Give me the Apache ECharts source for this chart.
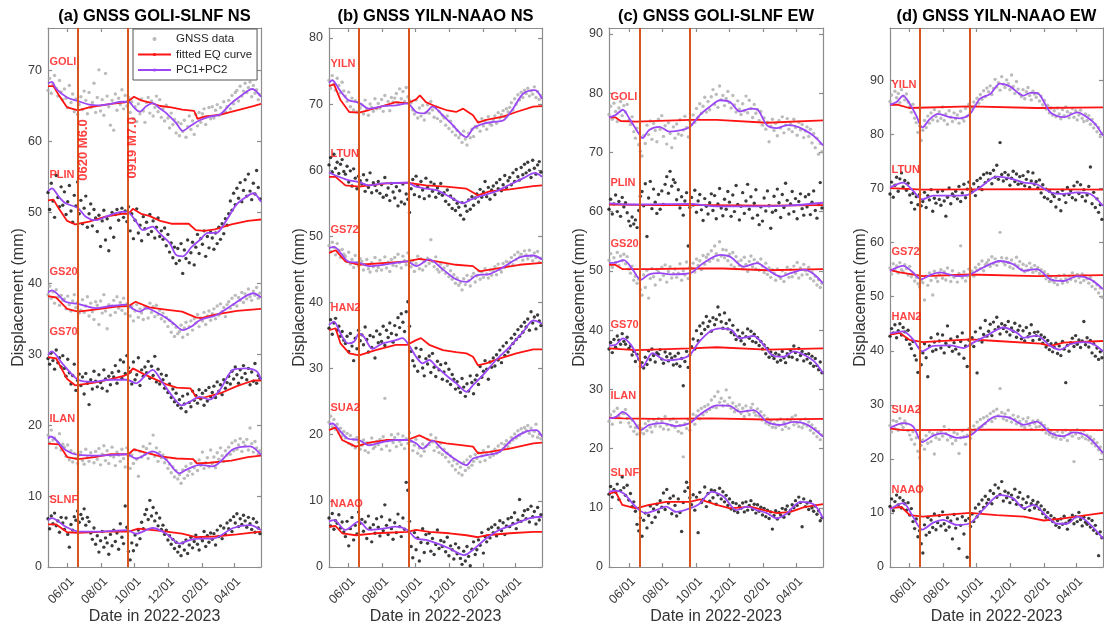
<!DOCTYPE html>
<html><head><meta charset="utf-8">
<script src="https://cdn.jsdelivr.net/npm/echarts@6/dist/echarts.min.js"></script>
<style>html,body{margin:0;padding:0;background:#fff}#c{width:1104px;height:628px}</style>
</head><body><div id="c"></div>
<script>
// x values are days counted from 2022-01-01 (= day 0)
const X_MIN = 115, X_MAX = 504;
const X_TICK_DAYS = [151, 212, 273, 334, 396, 455];
const X_TICK_LABELS = ['06/01', '08/01', '10/01', '12/01', '02/01', '04/01'];
const EQ_DAYS = [170, 261];
const EQ_TEXTS = ['0620 M6.0', '0919 M7.0'];
const EQ_TEXT_X = [180, 270];
const EQ_TEXT_Y = [58.8, 59.1];
const DOT_START = 115, DOT_STEP = 3;

const PANEL_TITLES = ['(a) GNSS GOLI-SLNF NS', '(b) GNSS YILN-NAAO NS', '(c) GNSS GOLI-SLNF EW', '(d) GNSS YILN-NAAO EW'];
const Y_MAX = [76, 81.5, 91, 99.7];
const Y_TICKS = [
  [0, 10, 20, 30, 40, 50, 60, 70],
  [0, 10, 20, 30, 40, 50, 60, 70, 80],
  [0, 10, 20, 30, 40, 50, 60, 70, 80, 90],
  [0, 10, 20, 30, 40, 50, 60, 70, 80, 90]
];
const NAMES_AC = ['GOLI', 'PLIN', 'GS20', 'GS70', 'ILAN', 'SLNF'];
const NAMES_BD = ['YILN', 'LTUN', 'GS72', 'HAN2', 'SUA2', 'NAAO'];
const LABEL_Y_A = [71.2, 55.3, 41.6, 33.1, 20.9, 9.4];
const LABEL_Y_B = [76.1, 62.4, 50.9, 39.2, 24.1, 9.6];
const LABEL_Y_C = [79.4, 64.8, 54.5, 40.9, 28.8, 15.8];
const LABEL_Y_D = [89.1, 73.5, 58.2, 46.3, 29.1, 14.2];

// ---------- panel (a) ----------
const A_GOLI_DOTS = [67.2,68.9,66.8,68.1,69.3,67.5,66.4,68.6,67.0,65.9, 67.4,66.1,64.8,67.9,65.5,66.7,64.2,66.0,63.8,65.2, 66.3,64.5,67.1,65.8,63.9,66.9,64.8,65.5,68.2,64.1, 66.2,70.1,64.3,65.9,63.7,69.6,66.4,64.9,62.3,65.8, 61.6,66.7,64.4,66.1,65.2,67.3,64.6,66.5,65.0,66.2, 64.1,65.6,63.2,64.9,62.8,65.3,63.9,66.0,64.3,62.7, 65.5,66.2,64.0,65.7,63.6,64.8,66.4,64.2,65.9,63.4, 64.6,62.9,65.1,63.3,61.9,64.0,62.4,63.1,61.2,62.7, 60.8,62.5,61.4,63.0,60.6,62.1,63.6,61.7,62.9,61.0, 63.8,62.2,64.1,62.7,63.9,64.6,62.4,63.5,64.8,63.2, 64.9,63.3,64.4,65.2,63.7,64.8,63.9,65.6,64.2,64.9, 65.8,64.6,66.5,65.3,66.9,67.2,65.7,67.8,66.4,67.1, 68.2,66.9,67.6,68.4,66.3,67.9,66.8,67.3,65.9,66.6];
const A_GOLI_EQ = [[115,67.8],[125,67.8],[135,66.5],[150,64.8],[170,64.4],[190,64.8],[230,65.3],[255,65.5],[262,65.7],[272,66.3],[285,65.8],[300,65.5],[320,65.0],[340,64.8],[360,64.5],[382,64.3],[388,63.2],[400,63.5],[430,63.8],[460,64.4],[490,65.0],[504,65.3]];
const A_GOLI_PC = [[115,68.2],[122,68.4],[130,67.4],[150,66.2],[170,65.7],[190,65.2],[210,65.1],[230,65.3],[250,65.6],[262,65.6],[272,64.8],[282,64.2],[295,65.0],[306,65.4],[320,64.6],[331,64.0],[349,62.6],[361,61.5],[377,62.3],[392,63.0],[410,63.5],[429,63.8],[447,65.2],[465,66.3],[488,67.4],[504,66.3]];

const A_PLIN_DOTS = [52.8,50.4,54.1,51.6,49.3,55.2,52.1,50.8,53.6,51.0, 52.9,49.7,51.5,53.8,50.2,48.6,52.4,50.9,54.3,49.8, 51.7,48.4,50.6,52.3,47.9,49.8,51.2,48.1,50.4,49.2, 47.3,49.6,45.2,48.8,50.3,46.1,49.1,44.6,47.8,50.0, 46.5,49.7,50.4,48.9,49.9,50.6,49.3,50.2,48.7,50.8, 47.4,49.8,46.3,48.9,50.5,47.1,48.2,46.0,49.4,47.7, 48.6,46.9,49.7,47.3,48.8,46.4,47.9,49.2,46.6,47.4, 46.2,47.8,45.3,46.9,44.4,45.7,43.6,45.1,42.8,44.9, 43.2,45.6,41.4,44.7,43.5,46.1,42.9,44.3,45.8,42.6, 45.1,46.9,44.2,46.3,45.5,47.4,43.8,46.6,45.0,47.2, 46.4,44.8,47.1,45.6,47.9,46.2,48.4,47.0,49.1,48.2, 49.8,51.6,50.3,52.7,51.1,53.4,52.0,54.2,51.5,53.1, 54.6,52.3,55.4,53.0,51.8,54.1,52.6,55.9,53.5,51.9];
const A_PLIN_EQ = [[115,51.7],[125,51.8],[135,50.5],[150,48.8],[165,48.3],[190,48.7],[220,49.4],[250,49.8],[262,49.8],[270,50.5],[285,49.8],[300,49.5],[320,48.8],[340,48.4],[372,48.4],[385,47.5],[400,47.4],[420,47.6],[450,48.3],[480,48.8],[504,49.0]];
const A_PLIN_PC = [[115,53.0],[122,53.4],[135,52.2],[147,51.3],[170,50.6],[184,49.4],[202,48.9],[221,49.4],[239,49.9],[259,50.1],[276,48.7],[288,47.5],[306,48.0],[318,47.1],[337,45.7],[349,44.0],[361,43.8],[377,45.1],[392,46.1],[407,47.1],[422,47.1],[441,48.9],[459,51.1],[477,52.2],[490,52.7],[504,51.5]];

const A_GS20_DOTS = [38.4,39.6,37.9,38.8,37.2,39.1,38.0,36.9,38.3,37.6, 37.8,36.4,38.2,37.0,36.1,37.5,38.4,36.6,37.3,35.8, 36.2,37.7,35.9,36.8,38.1,35.4,37.2,36.0,34.9,37.4, 36.9,34.2,37.5,35.8,38.4,36.1,33.6,37.0,35.5,36.8, 37.6,35.9,38.1,36.5,37.3,36.2,37.9,35.7,37.1,36.6, 35.4,36.8,34.7,36.1,37.0,35.2,36.4,35.8,34.9,36.7, 36.5,35.1,37.2,35.9,36.7,35.3,36.9,35.6,36.2,35.0, 35.8,34.6,35.2,33.9,34.8,33.1,34.3,32.5,33.8,32.9, 33.2,34.1,32.4,33.7,34.5,32.8,33.9,34.7,33.4,35.0, 34.4,35.6,33.9,35.1,34.7,35.9,34.2,35.4,36.1,34.8, 35.7,36.4,35.0,36.8,35.5,37.1,36.0,36.6,35.3,37.0, 37.4,36.5,37.9,37.0,38.3,36.8,38.0,37.6,38.7,37.3, 38.5,37.8,39.2,38.1,37.6,38.9,38.3,39.4,37.9,38.6];
const A_GS20_EQ = [[115,38.2],[130,38.0],[150,36.4],[170,36.0],[200,36.3],[240,36.7],[262,36.8],[275,37.4],[300,36.6],[330,36.3],[360,36.0],[385,35.2],[395,35.1],[420,35.6],[460,36.1],[504,36.4]];
const A_GS20_PC = [[115,38.7],[122,39.0],[147,37.4],[170,37.1],[202,36.5],[230,36.8],[259,37.0],[270,36.4],[282,36.0],[295,36.5],[306,36.2],[331,35.1],[345,34.3],[361,33.4],[377,33.9],[392,34.8],[422,35.5],[453,37.0],[490,38.6],[504,38.0]];

const A_GS70_DOTS = [29.4,28.6,30.2,29.1,27.9,30.6,28.8,29.5,28.2,29.8, 28.0,26.9,29.3,27.4,25.8,27.0,28.6,24.9,26.3,27.2, 25.6,26.8,24.4,27.3,25.9,22.9,26.4,25.1,27.6,26.2, 25.4,27.1,26.0,25.2,27.8,26.5,24.8,26.9,25.7,27.4, 26.8,28.4,25.9,27.6,29.2,26.6,28.9,27.3,29.8,28.1, 27.5,25.8,28.9,26.4,27.1,29.5,25.6,27.8,26.9,28.2, 27.4,29.0,26.6,28.3,27.0,29.7,26.1,27.9,25.8,27.2, 26.4,25.2,27.0,24.6,25.8,23.9,25.1,23.3,24.5,22.8, 23.6,22.4,24.1,23.0,21.9,24.4,23.2,22.6,24.8,23.5, 24.2,23.1,25.0,23.7,24.5,22.8,24.9,23.4,25.3,24.0, 24.6,25.5,23.9,26.1,24.8,25.7,24.3,26.4,25.2,26.0, 26.9,25.8,27.6,26.5,28.2,27.1,25.9,27.8,26.7,28.4, 27.3,26.4,28.0,25.7,27.5,26.2,28.7,25.9,27.0,26.6];
const A_GS70_EQ = [[115,29.6],[130,29.4],[150,26.5],[165,25.6],[200,26.0],[230,26.5],[255,27.0],[262,27.2],[270,28.0],[290,27.2],[310,26.5],[330,25.8],[350,25.3],[375,25.2],[387,23.8],[400,23.9],[430,24.5],[460,25.5],[490,26.3],[504,26.3]];
const A_GS70_PC = [[115,29.9],[122,30.4],[141,28.7],[170,26.4],[196,26.1],[227,26.4],[259,26.4],[276,25.9],[294,27.1],[306,27.8],[325,25.9],[343,24.0],[359,22.8],[374,23.3],[392,24.0],[410,23.6],[429,25.0],[453,27.8],[477,28.0],[496,27.6],[504,26.4]];

const A_ILAN_DOTS = [18.6,17.5,19.3,17.9,18.2,16.8,17.6,18.8,16.5,17.3, 16.9,15.6,17.2,15.1,16.4,14.8,16.0,15.3,14.6,15.8, 16.2,15.0,14.5,16.6,15.4,14.9,16.1,15.6,14.7,16.3, 15.2,16.7,14.4,15.9,17.1,15.0,16.4,14.6,15.7,16.9, 15.5,14.3,16.2,15.8,14.9,16.6,15.3,14.1,16.8,15.6, 13.9,15.8,14.6,16.5,15.2,12.8,16.3,15.5,17.0,15.9, 16.7,15.3,17.4,16.0,18.6,15.6,16.8,14.9,16.2,15.4, 15.8,14.7,15.2,13.9,14.5,13.3,14.1,12.7,13.6,12.4, 13.0,11.8,13.7,12.5,14.2,12.9,13.5,14.6,13.1,14.0, 14.8,13.6,15.1,14.3,16.2,13.9,14.7,15.4,14.1,16.5, 14.6,15.5,14.0,16.1,15.2,16.8,15.7,14.9,16.4,15.8, 16.9,15.9,17.5,16.4,17.8,16.6,17.2,18.1,16.3,17.6, 17.1,18.0,16.5,19.6,17.4,16.2,17.7,16.8,15.9,16.4];
const A_ILAN_EQ = [[115,17.4],[135,17.3],[150,15.5],[170,15.2],[200,15.5],[230,15.9],[262,15.9],[272,16.6],[290,16.2],[320,15.6],[350,15.3],[380,15.2],[387,14.6],[410,14.7],[450,15.0],[480,15.5],[504,15.7]];
const A_ILAN_PC = [[115,18.1],[120,18.4],[147,16.5],[170,15.8],[208,15.7],[259,15.9],[276,15.3],[306,16.3],[331,15.1],[355,13.2],[367,13.7],[392,14.4],[416,14.2],[453,16.6],[484,17.0],[504,15.8]];

const A_SLNF_DOTS = [6.8,5.4,7.2,6.1,7.6,5.8,6.5,4.9,7.0,6.2, 5.3,6.9,4.6,2.8,6.0,5.2,7.1,6.6,7.9,6.3, 7.4,6.8,8.2,5.9,7.0,6.4,4.8,3.9,5.5,3.2, 4.4,2.1,3.7,5.0,2.8,4.1,3.4,1.8,4.6,3.0, 5.2,3.6,4.8,2.5,6.1,4.2,3.3,8.6,5.6,2.2, 1.0,3.4,2.3,4.5,3.1,5.2,4.0,6.3,5.4,7.4, 8.1,6.7,9.4,7.2,8.4,6.5,7.6,5.8,6.9,5.3, 5.9,4.6,5.2,3.8,4.4,3.2,3.9,2.6,3.5,2.1, 2.9,1.6,3.4,2.4,3.8,1.9,3.1,4.2,2.7,3.6, 4.5,3.2,2.4,4.1,3.7,5.0,2.9,4.4,3.5,4.8, 3.9,4.7,3.1,5.2,4.3,5.8,4.0,5.5,4.6,6.2, 5.4,6.6,5.0,7.1,6.2,7.5,5.7,6.8,6.0,7.3, 6.5,5.6,7.0,6.1,5.3,6.8,4.9,6.3,5.5,4.7];
const A_SLNF_EQ = [[115,6.0],[130,6.0],[150,4.9],[170,4.8],[220,5.0],[262,5.0],[280,5.4],[320,5.1],[360,4.7],[385,4.2],[420,4.3],[460,4.6],[504,5.0]];
const A_SLNF_PC = [[115,6.6],[122,6.9],[147,5.7],[170,5.0],[208,5.0],[259,5.2],[276,4.7],[306,5.5],[331,4.7],[355,3.3],[374,3.8],[392,4.0],[416,4.0],[453,5.5],[484,5.9],[504,5.2]];

// ---------- panel (b) ----------
const B_YILN_DOTS = [73.6,72.4,74.3,73.0,72.1,73.9,72.8,71.7,73.3,72.0, 71.2,70.4,71.8,69.6,70.9,69.1,70.5,68.8,70.2,69.4, 69.9,68.5,70.6,69.2,68.3,70.0,69.5,68.9,70.8,69.3, 70.1,69.4,70.7,68.9,71.3,69.8,70.4,69.0,71.0,70.3, 70.9,71.6,70.2,72.3,70.8,71.9,70.4,72.5,71.1,70.6, 70.2,69.1,68.5,70.6,67.9,69.4,68.2,69.8,67.6,68.7, 69.9,68.6,70.4,69.1,68.0,69.6,67.8,68.9,67.4,68.3, 67.9,66.8,68.2,66.3,67.4,65.8,66.6,65.3,66.0,64.9, 65.4,64.2,65.9,64.7,63.8,65.6,64.9,66.2,65.1,66.6, 66.4,67.3,65.9,67.8,66.7,67.5,66.2,68.1,67.0,66.8, 67.6,68.2,67.1,68.7,67.9,68.4,69.0,68.1,69.3,68.8, 69.5,70.2,69.1,70.8,70.0,71.4,70.6,71.8,71.0,72.1, 71.6,72.4,71.2,72.0,71.5,72.6,71.0,71.9,70.7,71.3];
const B_YILN_EQ = [[115,72.7],[124,73.0],[136,70.6],[152,68.8],[170,68.7],[188,69.1],[213,69.7],[237,70.3],[258,70.1],[274,70.7],[281,71.3],[292,70.3],[311,69.6],[329,69.1],[347,68.8],[360,69.3],[378,68.3],[387,67.2],[402,67.6],[433,68.1],[457,68.8],[488,69.6],[504,69.7]];
const B_YILN_PC = [[115,73.2],[121,73.6],[133,72.3],[150,70.6],[170,70.2],[188,69.3],[213,69.7],[237,69.8],[258,70.1],[274,68.8],[289,68.6],[304,69.6],[323,68.3],[341,66.8],[356,65.5],[366,65.0],[378,66.3],[396,67.0],[415,67.3],[433,67.5],[451,69.3],[470,71.6],[491,72.1],[504,70.8]];

const B_LTUN_DOTS = [60.8,61.9,59.7,62.4,60.3,61.2,59.5,60.9,61.6,59.8, 59.4,60.6,58.2,59.9,57.6,60.2,58.8,57.2,59.1,58.4, 57.9,59.3,56.8,58.5,57.4,59.6,56.6,58.1,57.7,56.9, 58.3,56.5,57.8,55.9,58.9,56.2,57.3,55.4,58.0,56.7, 55.8,57.5,54.6,56.9,55.2,57.9,54.9,56.4,55.6,53.6, 57.2,58.6,56.3,59.1,57.6,56.0,58.3,57.0,55.7,58.8, 57.4,56.1,58.2,56.8,57.9,55.9,57.3,56.5,58.0,56.2, 56.6,55.3,57.0,54.8,56.1,54.2,55.6,53.9,55.0,54.4, 53.2,55.1,52.6,54.6,53.8,55.5,54.1,56.0,54.7,55.8, 56.4,55.2,57.1,55.9,56.7,58.3,56.0,57.4,55.6,57.0, 57.6,56.3,58.1,57.2,58.6,56.9,57.8,59.2,57.4,58.4, 58.9,57.8,59.6,58.3,60.1,59.0,58.5,60.4,59.3,60.9, 59.6,61.2,60.0,58.9,61.5,60.3,59.4,60.8,61.3,59.7];
const B_LTUN_EQ = [[115,59.0],[127,59.0],[145,57.7],[170,57.5],[219,58.0],[258,58.1],[292,57.7],[329,57.5],[366,57.2],[387,56.2],[408,56.8],[445,57.1],[488,57.6],[504,57.7]];
const B_LTUN_PC = [[115,59.7],[127,59.2],[150,58.5],[170,58.2],[188,57.7],[213,58.0],[258,58.1],[274,57.5],[292,57.2],[311,57.0],[335,56.0],[360,55.0],[372,55.5],[396,56.2],[420,56.8],[445,57.8],[470,58.8],[491,59.6],[504,59.0]];

const B_GS72_DOTS = [48.6,47.7,49.1,48.3,47.2,48.9,47.9,46.8,48.0,47.3, 47.0,46.2,47.6,45.8,46.5,45.3,47.1,46.0,45.5,46.6, 46.2,44.9,45.7,46.5,45.1,44.6,46.0,45.4,46.8,44.8, 45.3,46.4,44.9,45.8,46.9,45.2,46.1,44.7,46.5,45.6, 46.8,45.5,47.3,46.0,45.2,47.0,46.3,45.7,47.5,46.4, 45.4,46.3,44.7,45.9,47.0,45.1,46.6,44.9,46.2,45.5, 46.7,45.9,49.5,46.2,45.4,46.9,45.0,44.6,45.8,44.9, 45.2,44.4,45.6,43.9,44.8,43.5,44.2,42.9,43.7,42.6, 43.0,41.9,43.6,42.7,44.1,43.3,42.5,43.9,44.4,43.1, 44.0,44.8,43.5,44.6,43.8,45.1,44.3,43.7,44.9,44.1, 44.7,45.4,44.2,45.8,45.0,44.6,45.9,45.3,46.2,45.6, 46.1,46.8,45.7,47.2,46.5,47.6,46.9,47.3,46.4,47.8, 47.2,46.6,47.9,47.0,46.3,47.5,46.8,47.7,46.1,46.7];
const B_GS72_EQ = [[115,47.5],[127,47.9],[145,46.2],[170,45.7],[219,46.0],[258,46.2],[280,46.6],[311,46.2],[347,45.7],[378,45.5],[390,44.7],[420,45.1],[463,45.7],[504,46.0]];
const B_GS72_PC = [[115,48.2],[124,48.4],[150,46.2],[170,46.0],[188,45.5],[237,46.0],[258,46.2],[274,45.5],[298,46.5],[323,45.0],[347,43.5],[366,43.1],[384,44.1],[408,44.3],[433,45.3],[463,46.8],[488,47.1],[504,46.5]];

const B_HAN2_DOTS = [36.1,37.4,35.2,36.9,37.6,35.8,36.4,34.9,35.6,34.3, 33.8,34.9,32.6,35.3,33.4,31.2,34.6,33.0,35.8,34.2, 35.1,33.6,36.3,34.4,32.5,35.0,33.2,34.8,31.6,35.7, 33.9,35.2,34.1,36.4,33.5,35.8,34.7,36.9,35.3,34.0, 36.5,35.1,37.7,36.2,38.3,37.0,35.6,38.6,40.1,36.4, 32.6,31.2,30.4,33.1,29.6,31.8,32.9,30.1,28.9,31.5, 30.7,31.9,29.4,32.3,30.2,28.8,31.1,29.8,30.6,28.4, 29.5,30.8,28.1,29.9,27.6,29.1,28.4,26.9,28.0,27.1, 26.4,28.5,27.2,25.8,27.7,26.6,28.9,27.9,26.2,28.3, 29.0,27.6,30.3,28.7,29.6,31.2,29.9,28.4,31.0,30.2, 31.6,30.4,32.1,31.3,32.8,30.9,33.4,32.0,33.9,32.5, 33.1,34.6,33.8,35.2,34.4,35.9,34.9,36.4,35.5,37.0, 36.3,37.5,35.8,38.6,36.9,37.8,36.0,38.1,37.2,36.5];
const B_HAN2_EQ = [[115,35.8],[127,36.1],[136,33.8],[152,32.3],[170,32.0],[200,32.8],[237,33.6],[258,33.6],[274,34.3],[283,34.6],[298,33.6],[323,32.8],[347,32.5],[366,32.3],[378,31.8],[387,30.5],[402,30.8],[426,31.5],[457,32.3],[488,32.9],[504,32.9]];
const B_HAN2_PC = [[115,36.6],[124,37.1],[136,35.3],[150,33.8],[161,34.1],[170,35.3],[179,34.8],[194,33.0],[213,33.8],[237,34.3],[249,34.6],[259,33.8],[274,31.8],[286,30.8],[298,31.3],[311,30.3],[329,29.0],[347,27.8],[366,26.5],[378,27.5],[396,29.0],[420,31.3],[445,33.3],[470,35.6],[488,37.3],[504,36.8]];

const B_SUA2_DOTS = [21.9,22.8,21.2,22.3,20.8,21.6,20.3,21.0,19.8,20.5, 19.5,20.2,18.7,19.9,18.4,19.3,18.0,19.6,18.9,17.8, 18.4,19.2,17.6,18.8,17.3,18.6,19.5,17.9,18.2,19.0, 18.5,19.3,17.8,19.7,25.5,18.3,19.1,17.6,20.0,18.8, 19.6,18.2,20.1,19.0,18.5,19.8,17.9,19.4,18.7,20.3, 19.0,17.6,18.4,19.3,17.2,18.0,16.8,18.6,17.5,18.2, 19.3,18.5,20.0,18.9,17.6,19.5,18.1,17.3,18.7,17.0, 17.8,16.6,17.2,15.9,16.8,15.3,16.1,14.7,15.6,14.2, 15.1,13.9,15.8,14.6,16.2,15.0,16.7,15.4,16.0,17.0, 16.4,17.3,15.9,16.8,17.6,16.1,17.0,18.2,16.6,17.4, 16.9,17.8,17.2,18.3,17.5,18.7,17.9,18.5,19.1,18.2, 18.8,19.6,19.2,20.1,19.5,20.6,19.9,20.9,20.3,21.1, 20.7,21.4,20.2,21.0,19.8,20.5,21.6,19.6,20.1,19.4];
const B_SUA2_EQ = [[115,20.7],[127,21.1],[139,19.2],[164,18.2],[188,18.8],[219,19.2],[258,19.2],[280,19.9],[298,19.2],[329,18.7],[360,18.4],[378,18.2],[387,17.2],[408,17.4],[445,17.9],[488,18.7],[504,18.8]];
const B_SUA2_PC = [[115,21.5],[121,21.7],[136,20.5],[150,19.4],[170,19.2],[188,18.4],[213,18.9],[237,19.2],[258,19.2],[274,18.7],[286,17.9],[304,19.1],[323,17.7],[347,16.2],[366,15.4],[378,16.4],[402,16.9],[426,17.4],[451,19.4],[476,20.5],[494,20.7],[504,19.7]];

const B_NAAO_DOTS = [7.4,6.2,8.1,5.7,7.0,6.6,7.9,5.9,6.8,5.3, 4.6,6.9,3.2,5.8,7.5,4.1,6.3,5.0,8.3,6.6, 7.2,5.4,6.8,4.3,7.7,5.9,3.8,6.4,5.1,7.3, 6.0,4.7,7.6,5.5,9.4,6.3,4.9,7.1,5.8,4.2, 6.7,5.2,8.0,6.1,4.6,7.4,5.7,12.8,11.6,6.9, 3.1,1.4,5.2,2.6,4.4,0.9,3.7,5.8,2.2,4.9, 3.6,5.1,2.4,4.3,1.9,3.4,5.6,2.8,4.0,3.1, 3.8,2.3,4.5,1.7,3.2,2.6,1.2,3.5,2.0,2.9, 1.3,0.4,2.4,0.9,3.1,1.6,0.2,2.7,3.8,1.9, 2.6,4.1,3.3,5.2,2.1,4.6,3.8,5.7,4.4,6.0, 5.2,6.4,4.7,5.9,7.0,5.5,6.7,4.9,6.2,7.3, 6.1,7.5,6.6,8.2,5.8,7.1,10.2,6.9,7.8,8.5, 7.3,8.7,6.8,9.2,7.6,8.4,6.5,9.0,7.1,7.9];
const B_NAAO_EQ = [[115,6.1],[127,6.2],[139,5.1],[164,4.8],[200,5.1],[258,5.3],[274,5.6],[298,5.3],[335,5.1],[366,4.8],[387,4.5],[402,4.8],[445,5.1],[488,5.3],[504,5.3]];
const B_NAAO_PC = [[115,6.9],[124,7.1],[145,5.6],[170,6.9],[188,5.6],[213,5.8],[237,6.1],[258,5.6],[274,4.3],[292,4.1],[311,3.6],[335,2.8],[362,1.8],[378,2.6],[402,4.3],[426,5.6],[457,6.6],[482,7.4],[504,7.6]];

// ---------- panel (c) ----------
const C_GOLI_DOTS = [76.4,77.8,75.6,78.3,76.9,75.2,77.5,78.6,76.2,77.9, 76.8,78.1,75.4,74.7,76.0,73.5,72.4,74.1,71.3,70.2, 69.4,72.8,71.5,74.6,73.0,75.3,72.2,74.9,73.7,71.8, 75.6,73.9,76.2,72.7,74.5,71.4,75.0,73.2,70.8,74.3, 72.4,74.8,73.1,75.5,72.9,73.8,76.1,74.2,72.6,75.3, 74.7,76.3,75.1,77.4,75.9,78.2,76.6,77.8,79.3,76.8, 78.6,77.2,79.4,80.6,78.1,79.8,77.6,81.2,78.9,79.6, 77.9,79.1,80.3,78.4,77.5,79.6,78.0,76.8,78.7,77.3, 76.4,78.2,77.0,79.5,76.7,78.8,77.4,75.9,78.1,76.6, 77.2,75.4,76.9,74.6,75.8,73.9,75.1,71.8,74.4,75.6, 73.7,74.9,72.8,75.4,74.1,76.0,73.3,74.6,75.7,73.9, 74.8,73.5,75.6,74.2,72.9,75.1,73.8,74.7,72.5,73.6, 74.3,72.7,73.9,71.6,73.2,70.8,72.4,69.7,71.5,70.1];
const C_GOLI_EQ = [[115,75.9],[127,75.9],[136,75.3],[164,75.2],[262,75.5],[311,75.5],[402,75.0],[504,75.4]];
const C_GOLI_PC = [[115,75.9],[127,76.3],[140,77.2],[152,75.7],[167,73.5],[176,72.4],[188,73.8],[207,74.3],[225,73.5],[249,73.8],[262,74.3],[280,76.3],[298,77.7],[317,78.8],[335,78.5],[353,76.9],[372,77.4],[384,77.3],[402,74.6],[420,74.1],[439,74.6],[451,74.5],[470,73.8],[488,72.7],[504,71.2]];

const C_PLIN_DOTS = [60.4,62.1,59.6,61.3,62.8,60.0,61.7,59.2,62.4,60.8, 61.5,59.8,58.4,57.6,59.1,57.9,58.6,57.3,60.2,62.6, 63.4,61.0,64.7,55.8,62.3,65.1,60.5,63.8,61.6,59.7, 62.9,60.4,63.5,61.2,64.6,65.9,63.1,66.8,64.3,65.4, 64.9,62.0,63.7,60.6,62.5,59.4,61.8,63.2,54.2,60.7, 62.4,61.1,63.6,59.9,61.8,62.9,60.3,58.5,62.2,60.9, 59.6,61.5,63.0,60.2,62.7,58.8,61.3,63.9,60.6,59.3, 62.1,60.4,63.4,61.6,59.2,62.8,60.0,64.4,61.2,58.6, 60.9,63.2,59.7,61.8,64.6,60.4,62.5,58.9,61.4,63.7, 59.4,57.8,60.8,58.4,62.3,60.1,63.5,61.0,57.2,59.9, 62.6,60.2,63.8,61.5,59.0,62.9,60.7,64.8,61.9,59.6, 61.3,63.4,60.0,62.2,58.8,61.7,63.0,60.5,59.4,62.5, 60.8,62.9,59.5,61.6,63.5,60.2,58.9,61.2,64.9,60.6];
const C_PLIN_EQ = [[115,61.2],[200,61.1],[300,61.1],[400,61.0],[504,61.1]];
const C_PLIN_PC = [[115,61.4],[160,61.2],[262,61.3],[311,60.9],[384,60.9],[440,61.0],[504,61.5]];

const C_GS20_DOTS = [51.8,52.9,50.6,52.2,51.4,53.1,50.9,52.5,51.7,52.8, 51.2,52.4,50.3,49.6,50.8,48.4,49.1,47.9,48.6,46.8, 45.9,49.3,47.2,50.1,45.4,48.7,50.4,49.0,47.6,50.2, 49.8,48.5,50.6,49.2,51.0,48.1,49.9,50.7,48.8,49.5, 50.3,48.9,49.6,51.2,48.4,50.0,49.3,51.5,48.7,50.6, 50.4,51.3,49.8,52.0,50.9,51.7,50.2,52.6,51.1,52.3, 52.8,51.6,53.4,52.1,54.2,52.9,51.8,54.9,52.5,53.6, 52.2,53.5,51.7,52.8,51.0,53.1,50.6,52.4,51.5,50.9, 51.8,50.4,52.3,51.1,49.9,51.6,52.5,50.7,51.9,50.3, 51.4,50.1,52.0,50.8,49.7,51.3,49.4,50.5,48.9,50.2, 49.6,48.4,50.3,49.1,48.7,50.0,48.2,49.5,50.6,48.9, 50.2,49.0,50.8,49.6,51.4,48.8,50.5,49.3,51.1,50.0, 49.4,50.6,48.7,49.8,48.3,49.1,47.6,48.5,47.2,47.9];
const C_GS20_EQ = [[115,51.0],[127,51.0],[139,50.3],[188,50.3],[262,50.4],[323,50.4],[402,50.1],[504,50.3]];
const C_GS20_PC = [[115,51.3],[127,51.4],[142,51.8],[158,50.2],[173,48.5],[188,49.4],[207,49.6],[231,49.4],[262,49.6],[286,51.3],[317,52.7],[335,52.4],[360,50.7],[384,51.3],[408,49.9],[427,49.0],[445,49.6],[470,50.2],[488,49.4],[504,47.9]];

const C_GS70_DOTS = [36.8,37.9,36.2,38.4,37.1,39.0,38.3,37.6,39.4,38.1, 37.6,38.8,36.9,37.3,35.8,36.4,34.7,35.9,35.1,33.8, 34.5,33.6,35.4,34.2,36.5,35.0,36.8,35.7,34.6,36.2, 35.9,36.7,35.1,34.4,36.3,35.5,34.8,36.0,35.3,34.1, 35.6,34.3,36.1,33.9,35.2,30.6,34.7,36.4,33.7,35.8, 37.2,38.5,36.8,39.9,38.2,40.7,39.4,41.2,40.1,42.3, 40.6,41.5,39.8,42.1,40.9,41.8,43.9,42.6,41.4,40.3, 42.9,41.1,40.2,41.7,39.6,40.8,39.2,38.4,40.0,38.9, 38.2,39.5,37.6,38.9,40.2,38.6,39.8,38.1,39.3,37.9, 38.7,37.4,38.1,36.8,37.5,36.0,36.9,35.4,36.3,35.7, 35.2,36.1,34.6,35.8,34.9,36.4,35.3,34.5,36.0,35.5, 36.6,35.4,37.3,36.2,35.0,36.9,35.7,36.4,34.8,35.9, 35.1,36.0,34.4,35.6,33.9,35.2,34.0,33.3,34.6,32.8];
const C_GS70_EQ = [[115,36.9],[164,36.6],[262,36.9],[311,37.1],[402,36.7],[504,36.9]];
const C_GS70_PC = [[115,37.4],[127,37.5],[140,38.6],[155,37.5],[170,34.9],[176,33.8],[194,36.1],[219,34.9],[243,35.1],[262,35.8],[277,37.8],[298,39.7],[317,40.3],[338,40.0],[353,38.6],[378,39.0],[396,37.5],[411,35.8],[433,35.5],[451,36.4],[470,35.8],[488,34.7],[504,32.7]];

const C_ILAN_DOTS = [24.6,25.7,24.1,26.3,25.2,26.8,25.5,24.4,26.0,25.9, 26.6,25.1,24.3,23.7,24.8,22.9,23.5,22.4,23.9,22.7, 23.4,22.5,24.2,23.0,24.7,23.6,22.8,24.9,23.8,24.4, 25.1,23.7,24.6,23.3,25.4,24.0,23.2,24.8,23.9,25.0, 23.6,24.5,22.9,23.9,22.6,18.6,24.2,23.4,24.9,23.1, 24.6,25.8,24.1,25.5,26.4,25.0,26.8,25.7,27.1,26.2, 27.4,26.6,28.2,27.0,28.8,26.9,29.6,27.8,28.5,27.2, 28.0,29.9,27.4,28.6,26.8,27.7,26.2,27.1,26.5,27.4, 25.9,26.8,25.4,27.2,26.3,25.7,26.9,27.5,26.1,25.6, 26.7,25.5,26.2,24.8,25.6,24.3,25.1,24.0,24.7,23.6, 24.2,23.5,24.8,23.9,25.0,23.2,24.4,23.7,24.9,23.4, 24.6,25.3,24.0,25.6,24.3,23.7,24.8,23.5,24.1,25.0, 23.8,24.5,23.1,24.0,22.6,23.4,22.0,22.9,21.5,22.3];
const C_ILAN_EQ = [[115,25.2],[140,25.1],[200,25.0],[300,25.1],[400,24.9],[504,25.0]];
const C_ILAN_PC = [[115,25.1],[127,25.3],[140,26.2],[158,24.8],[173,23.1],[188,24.0],[213,24.3],[237,23.8],[262,24.3],[280,25.7],[311,27.3],[335,27.2],[353,26.2],[378,26.5],[402,24.5],[427,24.0],[451,24.5],[476,24.0],[504,22.0]];

const C_SLNF_DOTS = [12.3,13.6,11.8,13.1,12.6,14.0,11.4,12.9,15.2,13.4, 12.1,13.8,11.3,12.4,10.2,11.0,9.4,7.2,6.1,8.3, 5.2,7.9,9.1,6.6,8.7,10.3,7.5,9.8,8.4,10.6, 9.3,11.2,10.1,12.5,9.7,13.1,10.8,11.6,9.0,12.0, 10.4,8.6,11.5,9.2,6.0,10.9,12.8,14.3,13.4,11.7, 10.5,12.2,9.6,11.8,5.8,12.6,10.9,11.4,13.5,10.2, 12.4,11.1,13.0,11.7,12.9,10.6,12.2,13.3,11.5,12.7, 11.0,12.1,10.4,11.5,9.8,10.9,9.5,10.7,9.2,10.3, 9.9,10.8,9.3,11.0,9.6,10.4,11.2,9.7,10.6,9.1, 10.5,9.4,10.1,8.8,9.9,8.5,9.6,8.2,9.3,6.4, 8.7,9.5,8.1,9.2,8.8,9.9,8.4,9.7,10.3,9.0, 9.6,10.5,10.0,11.2,10.4,11.8,10.9,6.8,11.5,10.2, 10.8,9.7,11.1,10.0,9.4,10.3,8.9,9.5,7.8,8.3];
const C_SLNF_EQ = [[115,12.4],[127,12.7],[139,10.5],[164,9.9],[188,10.5],[219,11.0],[262,11.0],[280,11.4],[311,10.5],[335,9.9],[372,10.2],[396,9.6],[420,9.1],[445,9.3],[470,10.1],[504,10.6]];
const C_SLNF_PC = [[115,12.7],[127,12.9],[142,12.4],[158,10.7],[170,9.6],[182,9.1],[200,9.6],[219,10.2],[237,9.3],[262,9.9],[280,10.7],[301,12.7],[323,11.9],[347,9.6],[366,10.2],[384,9.6],[402,9.1],[420,8.2],[439,9.1],[463,11.0],[488,10.5],[504,8.2]];

// ---------- panel (d) ----------
const D_YILN_DOTS = [86.1,87.3,85.6,88.0,86.8,87.6,85.9,88.3,87.1,86.4, 87.5,86.0,85.2,84.1,85.6,83.0,82.2,80.4,81.6,78.9, 80.8,82.6,81.3,83.4,82.1,84.0,82.7,84.6,83.3,82.5, 84.2,83.0,85.1,82.6,83.8,81.9,84.4,83.2,82.4,84.0, 82.9,83.6,82.1,84.3,83.0,82.5,84.8,83.4,85.6,84.1, 84.9,86.0,85.3,86.7,85.8,87.4,86.5,88.1,87.0,88.6, 87.9,89.0,87.4,88.5,90.2,88.8,89.6,88.2,90.7,89.3, 88.7,90.1,89.4,88.3,91.0,88.9,87.6,89.8,88.4,87.5, 87.0,88.3,86.6,87.9,88.7,87.2,86.4,88.0,87.5,86.9, 87.6,86.2,87.1,85.5,86.3,84.7,85.4,84.0,84.9,83.6, 84.4,83.3,84.9,83.8,82.9,84.6,83.5,85.1,84.2,83.1, 83.9,84.8,83.2,84.4,82.7,83.6,84.5,83.0,82.4,83.8, 82.6,83.5,81.9,82.8,81.2,81.9,80.5,81.3,79.6,80.2];
const D_YILN_EQ = [[115,85.5],[130,85.5],[150,84.9],[261,85.2],[383,84.9],[504,85.0]];
const D_YILN_PC = [[115,85.5],[127,86.0],[139,87.2],[151,85.7],[163,83.5],[174,81.3],[188,82.9],[203,83.8],[224,83.2],[243,83.0],[261,83.8],[279,86.6],[298,87.5],[316,89.4],[334,88.9],[359,87.2],[371,87.7],[383,87.7],[408,84.1],[432,83.2],[457,84.1],[475,83.2],[490,81.9],[504,79.8]];

const D_LTUN_DOTS = [69.0,71.2,68.4,70.6,72.1,69.5,71.8,72.9,70.3,71.5, 69.7,71.0,68.8,67.4,69.1,66.2,68.5,67.0,68.9,66.8, 67.6,69.3,66.5,68.7,67.9,69.8,65.8,68.2,67.3,69.4, 68.0,66.9,69.6,67.7,64.9,68.4,70.1,67.2,69.0,68.6, 69.5,68.1,70.4,67.6,69.2,70.8,68.3,69.9,71.2,70.0, 69.4,70.9,68.7,71.5,70.2,71.9,69.8,72.6,71.1,72.9, 71.6,72.8,70.9,73.4,72.1,74.3,71.7,78.5,72.6,71.4, 73.0,71.8,72.5,70.6,71.9,73.2,71.3,72.7,70.8,72.2, 71.0,72.4,70.5,71.7,73.1,70.2,71.4,72.9,70.8,71.3, 70.1,71.6,69.2,70.7,68.4,69.9,68.1,69.5,67.6,69.0, 68.5,66.6,69.3,68.0,65.9,69.7,68.8,67.4,70.2,68.9, 69.6,68.3,70.5,67.9,71.2,69.1,70.7,68.5,69.8,67.7, 68.8,70.4,74.0,67.2,69.3,66.5,68.1,65.6,67.0,64.3];
const D_LTUN_EQ = [[115,70.1],[175,69.8],[359,69.9],[504,69.8]];
const D_LTUN_PC = [[115,70.2],[139,71.1],[157,69.6],[174,68.0],[194,68.7],[224,68.7],[255,68.8],[279,70.2],[310,72.2],[334,71.9],[359,71.1],[383,70.8],[408,69.3],[432,69.0],[457,69.3],[481,69.0],[504,66.8]];

const D_GS72_DOTS = [55.3,54.2,56.1,54.9,55.7,54.4,56.3,55.0,54.6,55.9, 55.2,54.0,55.6,53.7,54.3,52.9,53.6,52.4,51.8,53.1, 52.6,49.4,53.8,52.1,54.4,53.0,50.3,54.7,53.5,52.8, 54.1,55.0,53.4,54.6,53.1,55.3,54.0,52.8,54.8,53.6, 53.9,52.7,54.3,59.4,53.5,54.6,52.9,53.8,55.1,54.2, 54.7,53.8,55.4,54.9,56.0,55.2,56.6,54.8,55.9,56.3, 56.8,55.6,57.4,56.1,57.0,55.8,56.5,61.9,57.2,56.4, 55.9,57.1,56.3,55.5,56.8,55.2,56.0,57.3,55.7,56.5, 55.1,56.0,54.6,55.7,54.9,56.2,55.3,54.5,55.8,54.8, 55.4,54.3,55.0,53.9,54.6,53.3,54.1,52.8,53.7,53.0, 52.6,53.5,52.2,53.9,53.1,52.5,54.0,53.3,52.7,53.8, 53.2,54.4,53.7,52.9,54.1,53.5,52.6,54.2,53.0,53.9, 53.3,52.5,53.6,51.9,52.8,51.4,52.2,50.7,51.6,49.9];
const D_GS72_EQ = [[115,54.9],[133,54.5],[175,53.8],[261,54.1],[383,53.8],[504,54.0]];
const D_GS72_PC = [[115,54.8],[139,55.7],[157,54.5],[172,53.2],[188,54.0],[206,54.5],[237,53.8],[261,54.1],[285,55.4],[316,56.6],[340,56.0],[359,54.8],[383,55.1],[408,53.2],[432,52.9],[457,53.8],[481,53.2],[504,51.4]];

const D_HAN2_DOTS = [42.7,44.1,43.3,44.8,42.4,43.7,45.0,42.9,44.3,43.5, 42.1,43.8,41.2,40.4,41.7,39.1,38.3,36.0,40.6,37.4, 39.6,41.3,38.7,35.2,40.9,42.4,39.9,41.6,40.2,43.1, 41.8,40.5,42.9,39.6,41.4,44.6,40.8,42.2,39.9,41.5, 40.3,42.6,39.4,41.7,43.3,38.6,40.9,37.1,42.0,41.2, 42.4,40.8,43.5,35.9,42.0,44.2,41.6,43.0,45.6,42.7, 43.6,44.9,42.8,45.3,43.9,46.2,44.4,43.1,45.0,44.1, 44.7,43.5,45.4,42.9,44.2,43.6,45.1,42.5,43.8,44.6, 42.2,43.7,41.8,44.3,42.6,43.2,44.8,41.9,43.4,42.8, 43.5,42.1,42.9,41.4,42.5,40.7,41.9,40.2,41.3,39.8, 40.6,41.4,39.5,40.9,39.1,41.7,40.3,34.1,41.0,39.9, 41.5,42.3,40.8,42.8,41.2,42.0,40.6,41.8,45.4,41.1, 42.4,40.7,41.9,39.6,41.3,39.0,40.5,38.4,39.8,38.7];
const D_HAN2_EQ = [[115,43.0],[133,43.3],[151,42.0],[175,41.6],[261,42.1],[310,41.8],[390,41.3],[408,40.9],[432,41.5],[504,41.8]];
const D_HAN2_PC = [[115,43.2],[139,43.6],[157,42.1],[174,39.9],[194,40.9],[224,41.0],[249,40.5],[267,41.5],[292,42.8],[322,44.3],[347,43.3],[359,42.4],[383,42.8],[408,40.9],[426,40.2],[444,41.2],[469,41.6],[487,41.2],[504,39.9]];

const D_SUA2_DOTS = [26.2,25.0,27.1,25.6,26.9,25.3,27.5,26.4,25.8,27.0, 26.5,25.2,24.4,23.6,25.0,22.7,23.9,21.4,20.2,22.5, 23.5,21.8,24.3,22.9,25.0,23.2,24.6,20.9,23.9,24.8, 23.6,25.1,24.2,26.0,24.7,23.5,25.4,24.0,22.8,24.9, 23.4,24.6,21.0,23.9,25.2,24.1,22.7,24.4,25.6,23.8, 24.9,26.1,25.4,26.8,25.7,27.3,26.0,27.6,26.5,27.9, 27.2,28.4,26.9,28.8,27.5,29.2,28.0,33.0,28.6,27.4, 28.3,27.1,29.0,27.6,26.8,28.1,27.3,26.5,27.8,26.9, 26.1,27.4,25.8,26.9,27.6,26.2,25.5,27.0,26.6,25.9, 27.1,26.0,26.7,25.4,26.2,24.8,25.6,24.5,25.2,24.1, 24.7,23.9,25.1,24.3,23.6,24.9,24.0,25.3,23.4,24.6, 25.0,24.2,19.5,24.6,25.4,23.8,24.8,24.1,25.2,23.7, 24.4,23.5,24.1,22.9,23.6,22.4,23.0,21.7,22.2,21.1];
const D_SUA2_EQ = [[115,25.6],[139,25.3],[300,25.4],[504,25.3]];
const D_SUA2_PC = [[115,25.7],[139,26.6],[157,26.0],[174,23.1],[194,24.3],[212,24.7],[237,23.9],[261,24.3],[285,26.3],[310,27.9],[334,27.6],[359,26.3],[383,26.9],[408,24.8],[432,24.2],[450,24.9],[475,24.2],[504,21.1]];

const D_NAAO_DOTS = [11.2,12.6,10.4,12.1,13.3,11.5,12.8,10.9,12.3,11.7, 10.5,11.9,9.6,10.8,8.4,7.1,8.9,5.6,6.7,4.3, 2.6,7.8,5.9,9.2,6.4,8.7,7.3,9.8,6.9,8.2, 9.5,7.6,10.2,8.0,6.8,9.1,7.4,8.5,5.2,9.7, 7.2,8.9,3.4,7.7,9.3,6.1,8.6,1.8,9.0,7.5, 9.8,8.4,10.9,9.3,11.6,10.2,12.4,11.0,13.1,11.8, 12.5,14.1,11.7,13.6,15.2,12.9,14.6,13.4,15.8,12.2, 14.0,12.8,13.7,11.9,13.3,12.5,14.4,11.6,12.9,13.8, 11.4,12.6,10.8,11.9,13.0,10.5,11.7,12.3,10.9,11.5, 12.0,10.7,11.3,9.9,10.6,9.2,10.1,8.8,9.5,8.4, 9.0,7.7,8.6,7.3,8.9,7.9,9.4,8.1,7.0,8.5, 8.7,9.6,8.0,9.3,8.4,10.1,8.8,7.6,9.2,8.3, 7.9,9.0,7.4,8.6,6.8,7.7,6.2,2.1,6.5,5.4];
const D_NAAO_EQ = [[115,10.9],[136,11.1],[151,9.6],[175,9.3],[261,10.0],[310,9.6],[359,9.3],[396,8.6],[432,9.0],[504,10.0]];
const D_NAAO_PC = [[115,10.7],[139,11.8],[157,9.3],[174,6.9],[194,8.2],[212,8.7],[237,7.8],[261,8.1],[285,10.6],[316,13.3],[340,12.7],[359,10.9],[377,11.5],[402,9.3],[420,8.0],[438,8.0],[457,9.3],[475,8.4],[504,5.3]];

// ---------- assemble ----------
const PANELS = [
  { names: NAMES_AC, labelY: LABEL_Y_A,
    dots: [A_GOLI_DOTS, A_PLIN_DOTS, A_GS20_DOTS, A_GS70_DOTS, A_ILAN_DOTS, A_SLNF_DOTS],
    eq: [A_GOLI_EQ, A_PLIN_EQ, A_GS20_EQ, A_GS70_EQ, A_ILAN_EQ, A_SLNF_EQ],
    pc: [A_GOLI_PC, A_PLIN_PC, A_GS20_PC, A_GS70_PC, A_ILAN_PC, A_SLNF_PC] },
  { names: NAMES_BD, labelY: LABEL_Y_B,
    dots: [B_YILN_DOTS, B_LTUN_DOTS, B_GS72_DOTS, B_HAN2_DOTS, B_SUA2_DOTS, B_NAAO_DOTS],
    eq: [B_YILN_EQ, B_LTUN_EQ, B_GS72_EQ, B_HAN2_EQ, B_SUA2_EQ, B_NAAO_EQ],
    pc: [B_YILN_PC, B_LTUN_PC, B_GS72_PC, B_HAN2_PC, B_SUA2_PC, B_NAAO_PC] },
  { names: NAMES_AC, labelY: LABEL_Y_C,
    dots: [C_GOLI_DOTS, C_PLIN_DOTS, C_GS20_DOTS, C_GS70_DOTS, C_ILAN_DOTS, C_SLNF_DOTS],
    eq: [C_GOLI_EQ, C_PLIN_EQ, C_GS20_EQ, C_GS70_EQ, C_ILAN_EQ, C_SLNF_EQ],
    pc: [C_GOLI_PC, C_PLIN_PC, C_GS20_PC, C_GS70_PC, C_ILAN_PC, C_SLNF_PC] },
  { names: NAMES_BD, labelY: LABEL_Y_D,
    dots: [D_YILN_DOTS, D_LTUN_DOTS, D_GS72_DOTS, D_HAN2_DOTS, D_SUA2_DOTS, D_NAAO_DOTS],
    eq: [D_YILN_EQ, D_LTUN_EQ, D_GS72_EQ, D_HAN2_EQ, D_SUA2_EQ, D_NAAO_EQ],
    pc: [D_YILN_PC, D_LTUN_PC, D_GS72_PC, D_HAN2_PC, D_SUA2_PC, D_NAAO_PC] }
];

const FONT = '"Liberation Sans", Arial, Helvetica, sans-serif';
const AXIS_COLOR = '#8c8c8c';
const LABEL_COLOR = '#3a3a3a';
const GREY = '#aaaaaa', BLACK = '#0a0a0a', RED = '#ff1414', PURPLE = '#9b47f5', ORANGE = '#d9541e';
const GRID_LEFT = [48, 329, 609, 890];
const GRID_WIDTH = [213, 213, 214, 213];

const grids = [], xAxes = [], xTop = [], yAxes = [], yRight = [], series = [];
PANELS.forEach((P, p) => {
  grids.push({ left: GRID_LEFT[p], width: GRID_WIDTH[p], top: 28, bottom: 61, containLabel: false, outerBoundsMode: 'none' });
  const lineStyle = { color: AXIS_COLOR, width: 1.2 };
  xAxes.push({
    type: 'value', gridIndex: p, min: X_MIN, max: X_MAX, position: 'bottom',
    axisLine: { show: true, onZero: false, lineStyle },
    axisTick: { show: true, inside: true, length: 4, customValues: X_TICK_DAYS, lineStyle },
    axisLabel: { customValues: X_TICK_DAYS, rotate: 45, margin: 8, verticalAlign: 'top', fontSize: 12.5, color: LABEL_COLOR, fontFamily: FONT,
      formatter: v => X_TICK_LABELS[X_TICK_DAYS.indexOf(v)] || '' },
    splitLine: { show: false },
    name: 'Date in 2022-2023', nameLocation: 'middle', nameGap: 42, nameMoveOverlap: false,
    nameTextStyle: { fontSize: 16, color: '#333', fontFamily: FONT }
  });
  xTop.push({
    type: 'value', gridIndex: p, min: X_MIN, max: X_MAX, position: 'top',
    axisLine: { show: true, onZero: false, lineStyle },
    axisTick: { show: true, inside: true, length: 4, customValues: X_TICK_DAYS, lineStyle },
    axisLabel: { show: false }, splitLine: { show: false },
    name: PANEL_TITLES[p], nameLocation: 'middle', nameGap: 3, nameMoveOverlap: false,
    nameTextStyle: { fontSize: 16.5, fontWeight: 'bold', color: '#000', fontFamily: FONT }
  });
  yAxes.push({
    type: 'value', gridIndex: p, min: 0, max: Y_MAX[p], position: 'left',
    axisLine: { show: true, onZero: false, lineStyle },
    axisTick: { show: true, inside: true, length: 4, customValues: Y_TICKS[p], lineStyle },
    axisLabel: { customValues: Y_TICKS[p], margin: 6, fontSize: 12.5, color: LABEL_COLOR, fontFamily: FONT },
    splitLine: { show: false },
    name: 'Displacement (mm)', nameLocation: 'middle', nameGap: 21, nameMoveOverlap: false,
    nameTextStyle: { fontSize: 16, color: '#333', fontFamily: FONT }
  });
  yRight.push({
    type: 'value', gridIndex: p, min: 0, max: Y_MAX[p], position: 'right',
    axisLine: { show: true, onZero: false, lineStyle },
    axisTick: { show: true, inside: true, length: 4, customValues: Y_TICKS[p], lineStyle },
    axisLabel: { show: false }, splitLine: { show: false }
  });

  P.dots.forEach((arr, s) => {
    series.push({
      type: 'scatter', name: 'GNSS data', xAxisIndex: p, yAxisIndex: p,
      symbol: 'circle', symbolSize: 3.4, z: 2, silent: true,
      itemStyle: { color: s % 2 === 0 ? GREY : BLACK },
      data: arr.map((v, i) => [DOT_START + DOT_STEP * i, v])
    });
  });
  P.eq.forEach(arr => {
    series.push({
      type: 'line', name: 'fitted EQ curve', xAxisIndex: p, yAxisIndex: p,
      symbol: 'none', z: 3, silent: true, lineStyle: { color: RED, width: 1.8 }, itemStyle: { color: RED },
      data: arr
    });
  });
  P.pc.forEach(arr => {
    series.push({
      type: 'line', name: 'PC1+PC2', xAxisIndex: p, yAxisIndex: p, smooth: 0.3,
      symbol: 'none', z: 4, silent: true, lineStyle: { color: PURPLE, width: 1.8 }, itemStyle: { color: PURPLE },
      data: arr
    });
  });
  // station names + earthquake lines
  series.push({
    type: 'scatter', name: 'station labels ' + p, xAxisIndex: p, yAxisIndex: p,
    symbolSize: 1, z: 6, silent: true, itemStyle: { color: 'rgba(0,0,0,0)' },
    label: { show: true, position: 'right', distance: 1, color: RED, fontWeight: 'bold', fontSize: 11, fontFamily: FONT,
      formatter: prm => P.names[prm.dataIndex] },
    data: P.labelY.map(y => [X_MIN, y]),
    markLine: {
      silent: true, symbol: 'none', animation: false, z: 5,
      label: { show: false },
      lineStyle: { color: ORANGE, width: 2, type: 'solid' },
      data: EQ_DAYS.map(d => ({ xAxis: d }))
    }
  });
});
series.push({
  type: 'scatter', name: 'eq labels', xAxisIndex: 0, yAxisIndex: 0,
  symbolSize: 1, z: 6, silent: true, itemStyle: { color: 'rgba(0,0,0,0)' },
  label: { show: true, position: 'inside', rotate: 90, color: RED, fontWeight: 'bold', fontSize: 13, fontFamily: FONT,
    formatter: prm => EQ_TEXTS[prm.dataIndex] },
  data: EQ_TEXT_X.map((x, i) => [x, EQ_TEXT_Y[i]])
});

const chart = echarts.init(document.getElementById('c'), null, { renderer: 'canvas' });
chart.setOption({
  animation: false,
  backgroundColor: '#fff',
  textStyle: { fontFamily: FONT },
  grid: grids,
  xAxis: xAxes.concat(xTop),
  yAxis: yAxes.concat(yRight),
  legend: {
    left: 133, top: 29, orient: 'vertical', padding: [4, 5, 4, 4],
    itemWidth: 33, itemHeight: 4, itemGap: 3.5,
    backgroundColor: '#fff', borderColor: '#555', borderWidth: 1, borderRadius: 0,
    selectedMode: false, z: 10,
    textStyle: { fontSize: 11.5, color: '#262626', fontFamily: FONT },
    data: [{ name: 'GNSS data', icon: 'circle' }, 'fitted EQ curve', 'PC1+PC2']
  },
  series
});
</script></body></html>
